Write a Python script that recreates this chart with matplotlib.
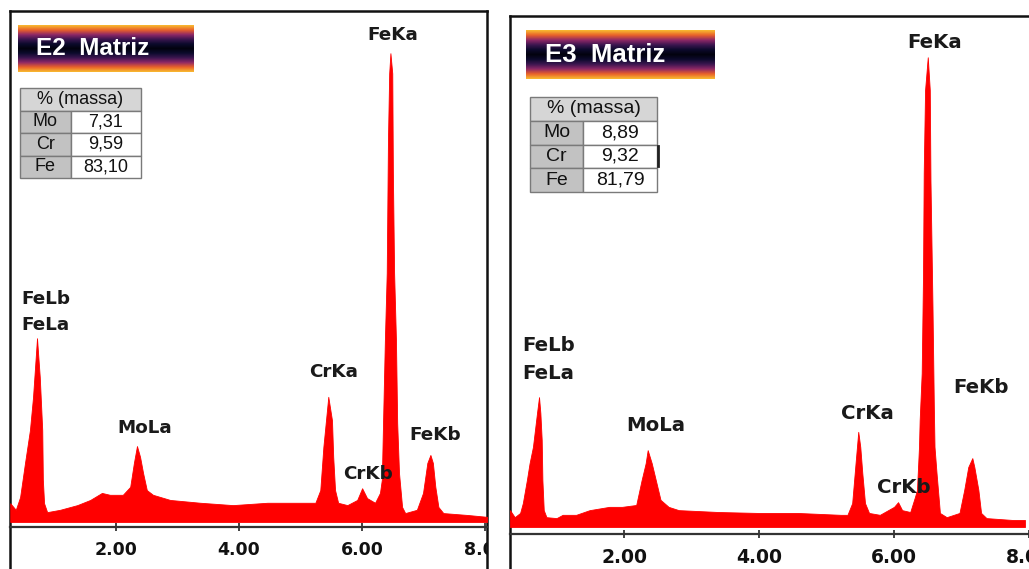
import matplotlib.pyplot as plt
import numpy as np
from matplotlib.colors import LinearSegmentedColormap
from matplotlib.patches import Rectangle

# EDS spectrum E2 (energy keV, counts)
e2_energy = [0.28, 0.37, 0.44, 0.52, 0.60, 0.65, 0.68, 0.715, 0.76, 0.80, 0.81, 0.83,
             0.88, 1.09, 1.37, 1.58, 1.77, 1.90, 2.11, 2.23, 2.29, 2.34, 2.39, 2.44,
             2.50, 2.60, 2.88, 3.37, 3.90, 4.46, 4.99, 5.24, 5.32, 5.37, 5.45, 5.51,
             5.53, 5.56, 5.61, 5.76, 5.92, 6.00, 6.08, 6.21, 6.29, 6.32, 6.34, 6.37,
             6.40, 6.42, 6.44, 6.46, 6.49, 6.50, 6.52, 6.55, 6.57, 6.60, 6.65, 6.70,
             6.89, 6.99, 7.06, 7.11, 7.15, 7.19, 7.24, 7.32, 7.71, 8.03]
e2_counts = [40, 26, 53, 126, 196, 266, 324, 392, 309, 196, 90, 40,
             21, 26, 36, 47, 62, 58, 58, 75, 126, 162, 139, 104,
             68, 58, 47, 41, 36, 41, 41, 41, 68, 160, 267, 217,
             139, 68, 41, 36, 47, 72, 51, 41, 62, 90, 211, 388,
             531, 814, 957, 1000, 957, 744, 531, 388, 211, 104, 32, 19,
             26, 62, 126, 143, 126, 75, 32, 19, 15, 11]

# EDS spectrum E3
e3_energy = [0.31, 0.38, 0.46, 0.50, 0.56, 0.60, 0.65, 0.68, 0.71, 0.74, 0.76, 0.78,
             0.79, 0.81, 0.85, 1.00, 1.09, 1.29, 1.49, 1.78, 1.97, 2.18, 2.26, 2.32,
             2.35, 2.41, 2.47, 2.54, 2.66, 2.81, 3.40, 3.99, 4.57, 5.21, 5.31, 5.38,
             5.43, 5.47, 5.50, 5.53, 5.57, 5.63, 5.79, 6.00, 6.06, 6.12, 6.24, 6.31,
             6.34, 6.37, 6.38, 6.41, 6.43, 6.44, 6.46, 6.50, 6.53, 6.54, 6.57, 6.59,
             6.60, 6.63, 6.68, 6.78, 6.97, 7.04, 7.10, 7.16, 7.19, 7.25, 7.29, 7.37,
             7.76, 7.94]
e3_counts = [36, 21, 30, 51, 100, 136, 171, 207, 243, 277, 243, 185,
             100, 36, 21, 19, 26, 26, 36, 43, 43, 47, 100, 136,
             164, 136, 100, 58, 43, 36, 32, 30, 30, 26, 26, 51,
             136, 203, 171, 115, 51, 30, 26, 43, 53, 36, 32, 64,
             79, 171, 228, 328, 542, 755, 932, 1002, 932, 740, 469, 256,
             171, 115, 30, 21, 30, 79, 128, 147, 128, 79, 30, 19,
             15, 15]

# peak labels (name, energy, counts)
e2_labels = [("FeKa", 6.50, 1038), ("FeLb", 0.86, 475), ("FeLa", 0.86, 420),
             ("MoLa", 2.46, 200), ("CrKa", 5.54, 320), ("CrKb", 6.10, 102),
             ("FeKb", 7.19, 185)]
e3_labels = [("FeKa", 6.60, 1034), ("FeLb", 0.88, 388), ("FeLa", 0.88, 328),
             ("MoLa", 2.47, 217), ("CrKa", 5.60, 243), ("CrKb", 6.15, 85),
             ("FeKb", 7.29, 298)]

# composition tables
elements = ["Mo", "Cr", "Fe"]
e2_mass = ["7,31", "9,59", "83,10"]
e3_mass = ["8,89", "9,32", "81,79"]

W, H = 1029, 569
fig = plt.figure(figsize=(W / 100, H / 100), dpi=100)


def px_axes(x0, y0, x1, y1, **kw):
    # axes placed by pixel box (top-left origin)
    return fig.add_axes([x0 / W, 1 - y1 / H, (x1 - x0) / W, (y1 - y0) / H], **kw)


banner_cmap = LinearSegmentedColormap.from_list(
    "banner", ["#f8b830", "#e8602a", "#8e2866", "#3c1650", "#0c0a2c", "#02020e",
               "#0c0a2c", "#3c1650", "#8e2866", "#e8602a", "#f8b830"])


def draw_panel(frame_box, plot_box, xlim, ylim, energy, counts, labels,
               title, title_box, table_box, mass, fs):
    fx0, fy0, fx1, fy1 = frame_box
    frame = px_axes(fx0, fy0, fx1, fy1)
    frame.set_xticks([])
    frame.set_yticks([])
    for s in frame.spines.values():
        s.set_linewidth(1.8)
        s.set_color("#111111")
    frame.set_zorder(0)

    ax = px_axes(*plot_box)
    ax.set_zorder(1)
    ax.patch.set_alpha(0)
    ax.fill_between(energy, 0, counts, color="#ff0000", linewidth=0.6,
                    edgecolor="#ff0000")
    ax.set_xlim(*xlim)
    ax.set_ylim(*ylim)
    for side in ["top", "left", "right"]:
        ax.spines[side].set_visible(False)
    ax.spines["bottom"].set_linewidth(1.6)
    ax.spines["bottom"].set_color("#333333")
    ax.set_yticks([])
    ax.set_xticks([2, 4, 6, 8])
    ax.set_xticklabels(["2.00", "4.00", "6.00", "8.00"])
    ax.tick_params(axis="x", direction="inout", length=6, width=1.2,
                   color="#222222", pad=7, labelsize=fs, labelcolor="#111111")
    for t in ax.xaxis.get_major_ticks():
        t.label1.set_fontweight("bold")
        t.label1.set_clip_on(True)
        t.label1.set_clip_box(frame.bbox)
    for name, xe, yc in labels:
        ax.text(xe, yc, name, ha="center", va="center", fontsize=fs + 0.7,
                fontweight="bold", color="#1a1a1a", zorder=5)

    # title banner
    b = px_axes(*title_box)
    b.imshow(np.linspace(0, 1, 80).reshape(-1, 1), cmap=banner_cmap,
             aspect="auto", extent=[0, 1, 0, 1])
    b.set_axis_off()
    b.text(0.1, 0.5, title, transform=b.transAxes, color="white",
           fontsize=fs + 5, fontweight="bold", family="Liberation Sans",
           va="center", ha="left")

    # composition table
    t = px_axes(*table_box)
    t.set_xlim(0, 1)
    t.set_ylim(4, 0)
    t.set_axis_off()
    split = 0.42
    cells = [(0, 0, 1, "#d6d6d6")]
    for i in range(1, 4):
        cells.append((0, i, split, "#c2c2c2"))
        cells.append((split, i, 1 - split, "white"))
    for x, y, w, c in cells:
        t.add_patch(Rectangle((x, y), w, 1, facecolor=c, edgecolor="#7a7a7a",
                              linewidth=1, clip_on=False))
    tfs = fs + 0.5
    t.text(0.5, 0.5, "% (massa)", ha="center", va="center", fontsize=tfs,
           family="Liberation Sans", color="#111111")
    for i, (el, val) in enumerate(zip(elements, mass)):
        t.text(split / 2, i + 1.5, el, ha="center", va="center", fontsize=tfs,
               family="Liberation Sans", color="#111111")
        t.text(split + (1 - split) / 2, i + 1.5, val, ha="center", va="center",
               fontsize=tfs, family="Liberation Sans", color="#111111")
    return t


draw_panel((10, 11, 487, 600), (10, 11, 487, 527), (0.276, 8.03), (-10.7, 1090),
           e2_energy, e2_counts, e2_labels, "E2  Matriz",
           (18, 25, 194, 72), (20, 88, 141, 178), e2_mass, 12.5)
t3 = draw_panel((510, 16, 1060, 600), (510, 16, 1029, 534), (0.31, 7.94), (-14.9, 1090),
                e3_energy, e3_counts, e3_labels, "E3  Matriz",
                (526, 30, 714, 79), (530, 97, 657, 192), e3_mass, 13.5)
t3.plot([1.01, 1.01], [2.05, 2.9], color="#222222", linewidth=2, clip_on=False)

fig.savefig("out.png", dpi=100)
